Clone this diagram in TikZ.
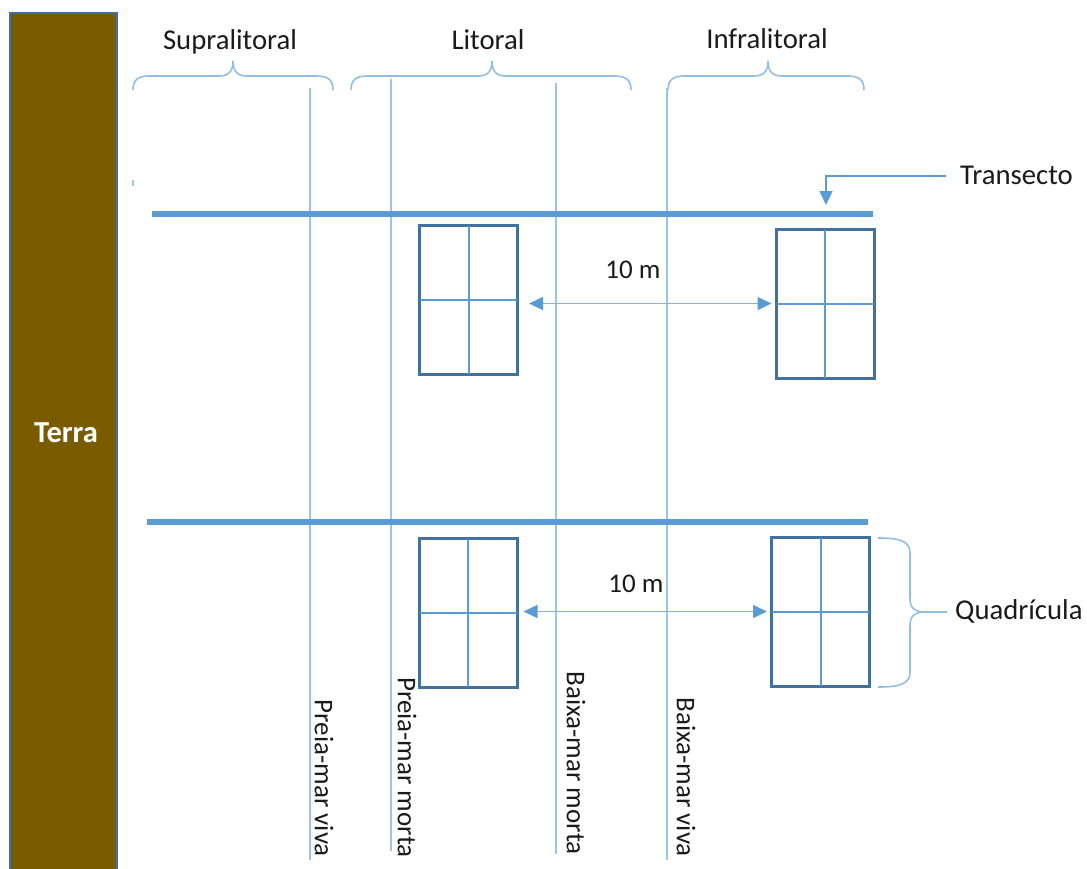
\documentclass[tikz,border=0pt]{standalone}
\usepackage{fontspec}
\setmainfont{Carlito}
\usetikzlibrary{arrows.meta}
\definecolor{soil}{HTML}{7A5C00}
\definecolor{edge}{HTML}{41719C}
\definecolor{accent}{HTML}{5B9BD5}
\definecolor{pale}{HTML}{9DC3E6}
\definecolor{ink}{HTML}{1A1A1A}

% horizontal brace opening downwards: left end, tip, right end
\newcommand{\capbrace}[3]{%
  \draw[zonebrace] (#1,90) .. controls (#1,80) and (#1+5,76) .. (#1+16,76)
    -- (#2-14,76) .. controls (#2-5,76) and (#2,72) .. (#2,61)
    .. controls (#2,72) and (#2+5,76) .. (#2+14,76)
    -- (#3-16,76) .. controls (#3-5,76) and (#3,80) .. (#3,90);}

\begin{document}
\begin{tikzpicture}[x=1pt,y=-1pt,
  txt/.style={font=\fontsize{27}{32}\selectfont, text=ink, inner sep=0pt},
  bigtxt/.style={txt, font=\fontsize{28.7}{34}\selectfont},
  level/.style={draw=pale, line width=2pt},
  zonebrace/.style={draw=pale!85!accent, line width=1.6pt},
  transect/.style={draw=accent, line width=6pt},
  quadrat/.style={draw=edge, line width=2pt, minimum width=97pt,
    minimum height=148pt, inner sep=0pt},
  cell/.style={draw=accent, line width=2pt},
  span/.style={draw=accent!75!white, line width=1.3pt,
    {Triangle[length=14pt,width=13pt,color=accent]}-{Triangle[length=14pt,width=13pt,color=accent]}},
  pointer/.style={draw=accent, line width=1.3pt,
    -{Triangle[length=14pt,width=13pt,color=accent]}},
]
\useasboundingbox (0,0) rectangle (1087,868);

% land strip
\filldraw[fill=soil, draw=edge, line width=1.6pt] (10,13) rectangle (117,875);
\node[txt, text=white, font=\fontsize{30.5}{36}\selectfont\bfseries, anchor=base]
  (terra) at (66,442) {Terra};

% zone braces and names
\capbrace{133}{233}{333}
\capbrace{351}{492}{631}
\capbrace{668}{768}{864}
\node[bigtxt, anchor=base] (supra) at (230,49) {Supralitoral};
\node[bigtxt, anchor=base] (lito) at (488,49) {Litoral};
\node[bigtxt, anchor=base] (infra) at (767,48) {Infralitoral};
\draw[pale, line width=1.4pt] (133,180) -- (133,186);

% tide levels
\draw[level] (310,88) -- (310,860);
\draw[level] (391,79) -- (391,851);
\draw[level] (556,83) -- (556,854);
\draw[level] (667,88) -- (667,860);
\node[txt, rotate=-90, anchor=east] (pmv) at (324,857) {Preia-mar viva};
\node[txt, rotate=-90, anchor=east] (pmm) at (407,858) {Preia-mar morta};
\node[txt, rotate=-90, anchor=east] (bmm) at (576,855) {Baixa-mar morta};
\node[txt, rotate=-90, anchor=east] (bmv) at (686,857) {Baixa-mar viva};

% transects
\draw[transect] (152,214) -- (873,214);
\draw[transect] (147,522) -- (868,522);
\node[bigtxt, anchor=base west] (transecto) at (960,184) {Transecto};
\coordinate (ttip) at (826,205);
\draw[pointer] ([xshift=-14pt]transecto.west |- 0,176) -| (ttip);

% quadrats
\foreach \q/\cx/\cy in {qa/468.5/300, qb/825/303.5, qc/468/613, qd/820.5/611.5}{
  \node[quadrat] (\q) at (\cx,\cy) {};
  \draw[cell] (\q.north) -- (\q.south);
  \draw[cell] (\q.west) -- (\q.east);
  \draw[edge, line width=2pt] (\q.north west) rectangle (\q.south east);
}

% distances between quadrats
\draw[span] ([xshift=11pt]qa.east |- qb.west) -- ([xshift=-4pt]qb.west);
\node[txt, anchor=base] (d1) at (633,278) {10 m};
\draw[span] ([xshift=6pt]qc.east |- qd.west) -- ([xshift=-4pt]qd.west);
\node[txt, anchor=base] (d2) at (636,592) {10 m};

% quadrat label brace
\node[bigtxt, anchor=base west] (quad) at (955,619) {Quadrícula};
\coordinate (qtip) at (947,612);
\draw[zonebrace] (878,538) .. controls (900,538) and (910,541) .. (910,553)
  -- (910,598) .. controls (910,608) and (914,612) .. (926,612) -- (qtip);
\draw[zonebrace] (926,612) .. controls (914,612) and (910,616) .. (910,626)
  -- (910,672) .. controls (910,684) and (900,687) .. (878,687);
\end{tikzpicture}
\end{document}
